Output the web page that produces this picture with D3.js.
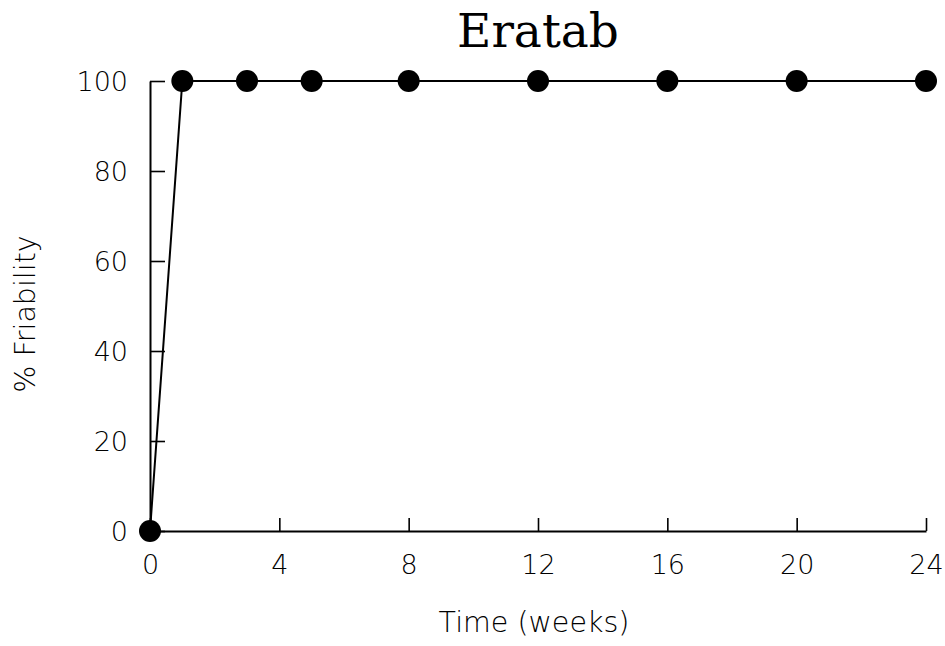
<!DOCTYPE html>
<html><head><meta charset="utf-8">
<script src="https://cdn.jsdelivr.net/npm/d3@7/dist/d3.min.js"></script>
<style>body{margin:0;background:#fff}svg{display:block}</style>
</head><body>
<svg id="c" width="945" height="646"></svg>
<script>
const weeks = [0, 1, 3, 5, 8, 12, 16, 20, 24];
const friability = [0, 100, 100, 100, 100, 100, 100, 100, 100];
const xTicks = [0, 4, 8, 12, 16, 20, 24];
const yTicks = [0, 20, 40, 60, 80, 100];
const title = "Eratab";
const xLabel = "Time (weeks)";
const yLabel = "% Friability";

const svg = d3.select("#c");
const x = d3.scaleLinear().domain([0, 24]).range([150, 926]);
const y = d3.scaleLinear().domain([0, 100]).range([531, 81]);
const font = "'DejaVu Sans', sans-serif";

// axes
const xa = svg.append("g").attr("transform", `translate(0,${y(0)})`)
  .call(d3.axisBottom(x).tickValues(xTicks).tickSize(-13).tickPadding(24).tickSizeOuter(0));
const ya = svg.append("g").attr("transform", `translate(${x(0)},0)`)
  .call(d3.axisLeft(y).tickValues(yTicks).tickSize(-15).tickPadding(22).tickSizeOuter(0));
[xa, ya].forEach(a => {
  a.select(".domain").attr("stroke", "#000").attr("stroke-width", 2);
  a.selectAll(".tick line").attr("stroke", "#000").attr("stroke-width", 1.6);
  a.selectAll(".tick text").attr("fill", "#000").attr("font-family", font)
    .attr("font-weight", 200).attr("font-size", 27);
});
xa.selectAll(".tick text").attr("dy", "0.71em");
ya.selectAll(".tick text").attr("dy", "0.36em");

// line
svg.append("path")
  .datum(weeks.map((w, i) => [w, friability[i]]))
  .attr("fill", "none").attr("stroke", "#000").attr("stroke-width", 2)
  .attr("d", d3.line().x(d => x(d[0])).y(d => y(d[1])));

// markers
svg.selectAll("circle.pt").data(weeks.map((w, i) => [w, friability[i]]))
  .join("circle").attr("class", "pt")
  .attr("cx", d => x(d[0])).attr("cy", d => y(d[1])).attr("r", 11)
  .attr("fill", "#000");

// title
svg.append("text").attr("x", 538).attr("y", 47).attr("text-anchor", "middle")
  .attr("font-family", "'DejaVu Serif', serif").attr("font-size", 47)
  .attr("fill", "#000").text(title);

// x label
svg.append("text").attr("x", 534).attr("y", 632).attr("text-anchor", "middle")
  .attr("font-family", font).attr("font-weight", 200).attr("font-size", 28.5)
  .attr("fill", "#000").text(xLabel);

// y label
svg.append("text").attr("transform", "translate(35,314) rotate(-90)")
  .attr("text-anchor", "middle")
  .attr("font-family", font).attr("font-weight", 200).attr("font-size", 28.5)
  .attr("fill", "#000").text(yLabel);
</script>
</body></html>
